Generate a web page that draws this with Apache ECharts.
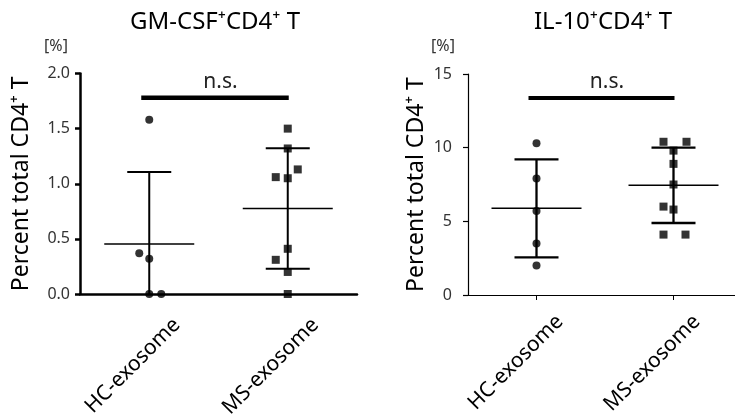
<!DOCTYPE html>
<html lang="en">
<head>
    <meta charset="UTF-8">
    <title>GM-CSF / IL-10 CD4 T</title>
    <script src="https://cdn.jsdelivr.net/npm/echarts@6/dist/echarts.min.js"></script>
    <style>
        html, body { margin: 0; padding: 0; background: #fff; }
    </style>
</head>
<body>
<div id="main" style="width: 735px;height: 417px"></div>
<script type="text/javascript">
    // categories and values
    var categories = ['HC-exosome', 'MS-exosome'];
    var gmHc = [1.58, 0.37, 0.32, 0, 0];
    var gmMs = [1.50, 1.32, 1.13, 1.06, 1.05, 0.41, 0.31, 0.20, 0];
    var ilHc = [10.3, 7.9, 5.7, 3.5, 2.0];
    var ilMs = [10.4, 10.4, 9.8, 8.9, 7.5, 6.0, 5.8, 4.1, 4.1];
    var gmTicks = [0, 0.5, 1.0, 1.5, 2.0];
    var ilTicks = [0, 5, 10, 15];
    var gmSig = 1.78, ilSig = 13.37, sigText = 'n.s.';

    // horizontal pixel shift of points that sit side by side
    var gmHcShift = [0, -10, 0, 0, 12];
    var gmMsShift = [0, 0, 10, -12, 0, 0, -12, 0, 0];
    var ilHcShift = [0, 0, 0, 0, 0];
    var ilMsShift = [-10, 13, 0, 0, 0, -10, 0, -10, 12];

    var FONT = 'Noto Sans';

    function mean(a) {
        var s = 0;
        for (var i = 0; i < a.length; i++) s += a[i];
        return s / a.length;
    }
    function sd(a) {
        var m = mean(a), s = 0;
        for (var i = 0; i < a.length; i++) s += (a[i] - m) * (a[i] - m);
        return Math.sqrt(s / (a.length - 1));
    }
    function points(vals, shift, idx) {
        return vals.map(function (v, i) {
            return {value: [idx, v], symbolOffset: [shift[i], 0]};
        });
    }

    // mean line + SD whiskers
    function sdBar(axisMin, lw) {
        return function (params, api) {
            var i = api.value(0), m = api.value(1), s = api.value(2);
            var pm = api.coord([i, m]);
            var pu = api.coord([i, m + s]);
            var low = m - s;
            var pl = api.coord([i, Math.max(low, axisMin)]);
            var st = {stroke: '#000', lineWidth: lw};
            var kids = [
                {type: 'line', shape: {x1: pm[0] - 45, y1: pm[1], x2: pm[0] + 45, y2: pm[1]}, style: {stroke: '#000', lineWidth: 1.5}},
                {type: 'line', shape: {x1: pu[0], y1: pu[1], x2: pl[0], y2: pl[1]}, style: st},
                {type: 'line', shape: {x1: pu[0] - 22, y1: pu[1], x2: pu[0] + 22, y2: pu[1]}, style: st}
            ];
            if (low >= axisMin) {
                kids.push({type: 'line', shape: {x1: pl[0] - 22, y1: pl[1], x2: pl[0] + 22, y2: pl[1]}, style: st});
            }
            return {type: 'group', children: kids};
        };
    }

    // significance bar with text
    function sigBar(lw) {
        return function (params, api) {
            var a = api.coord([api.value(0), api.value(2)]);
            var b = api.coord([api.value(1), api.value(2)]);
            return {
                type: 'group', children: [
                    {type: 'line', shape: {x1: a[0] - 8, y1: a[1], x2: b[0] + 1, y2: b[1]}, style: {stroke: '#000', lineWidth: lw}},
                    {type: 'text', x: (a[0] + b[0]) / 2 + 2, y: a[1] - 5,
                        style: {text: sigText, fill: '#222', font: '21px "' + FONT + '"', align: 'center', verticalAlign: 'bottom'}}
                ]
            };
        };
    }

    function xAxis(grid, lw, showTick, pad) {
        return {
            type: 'category', gridIndex: grid, data: categories,
            axisLine: {lineStyle: {color: '#000', width: lw}},
            axisTick: {show: showTick, alignWithLabel: true, length: 5, lineStyle: {color: '#000', width: 1}},
            axisLabel: {
                rotate: 45, margin: 0, verticalAlign: 'top', padding: [pad, 0, 0, 0], lineHeight: 26,
                color: '#000', fontFamily: FONT, fontSize: 21, interval: 0
            }
        };
    }
    function yAxis(grid, ticks, lw, gap, margin, digits) {
        return {
            type: 'value', gridIndex: grid,
            min: ticks[0], max: ticks[ticks.length - 1], interval: ticks[1] - ticks[0],
            name: 'Percent total CD4⁺ T', nameLocation: 'middle', nameGap: gap,
            nameTextStyle: {color: '#000', fontFamily: FONT, fontSize: 23},
            splitLine: {show: false},
            axisLine: {show: true, lineStyle: {color: '#000', width: lw}},
            axisTick: {show: true, length: 5, lineStyle: {color: '#000', width: lw}},
            axisLabel: {
                margin: margin, color: '#333', fontFamily: FONT, fontSize: 16,
                formatter: function (v) { return v.toFixed(digits); }
            }
        };
    }

    var myChart = echarts.init(document.getElementById('main'));
    myChart.setOption({
        animation: false,
        textStyle: {fontFamily: FONT},
        title: [
            {text: 'GM-CSF⁺CD4⁺ T', left: 210, top: 5, textAlign: 'center',
                textStyle: {fontFamily: FONT, fontSize: 24, fontWeight: 'normal', color: '#000'}},
            {text: 'IL-10⁺CD4⁺ T', left: 598, top: 5, textAlign: 'center',
                textStyle: {fontFamily: FONT, fontSize: 24, fontWeight: 'normal', color: '#000'}},
            {text: '[%]', left: 51, top: 33, textAlign: 'center',
                textStyle: {fontFamily: FONT, fontSize: 16, fontWeight: 'normal', color: '#333'}},
            {text: '[%]', left: 438, top: 33, textAlign: 'center',
                textStyle: {fontFamily: FONT, fontSize: 16, fontWeight: 'normal', color: '#333'}}
        ],
        grid: [
            {left: 80, right: 378, top: 73.5, bottom: 123, outerBoundsMode: 'none'},
            {left: 468, right: -7, top: 74, bottom: 122, outerBoundsMode: 'none'}
        ],
        xAxis: [xAxis(0, 2.5, false, 26), xAxis(1, 1.2, true, 20)],
        yAxis: [yAxis(0, gmTicks, 2.5, 47, 10, 1), yAxis(1, ilTicks, 1.2, 40, 16, 0)],
        series: [
            {type: 'custom', xAxisIndex: 0, yAxisIndex: 0, renderItem: sdBar(0, 2), z: 2,
                data: [[0, mean(gmHc), sd(gmHc)], [1, mean(gmMs), sd(gmMs)]]},
            {type: 'custom', xAxisIndex: 1, yAxisIndex: 1, renderItem: sdBar(0, 2.3), z: 2,
                data: [[0, mean(ilHc), sd(ilHc)], [1, mean(ilMs), sd(ilMs)]]},
            {type: 'custom', xAxisIndex: 0, yAxisIndex: 0, renderItem: sigBar(4.5), data: [[0, 1, gmSig]]},
            {type: 'custom', xAxisIndex: 1, yAxisIndex: 1, renderItem: sigBar(4), data: [[0, 1, ilSig]]},
            {type: 'scatter', xAxisIndex: 0, yAxisIndex: 0, symbol: 'circle', symbolSize: 8, clip: false, z: 5,
                itemStyle: {color: '#000'}, data: points(gmHc, gmHcShift, 0)},
            {type: 'scatter', xAxisIndex: 0, yAxisIndex: 0, symbol: 'rect', symbolSize: 8, clip: false, z: 5,
                itemStyle: {color: '#000'}, data: points(gmMs, gmMsShift, 1)},
            {type: 'scatter', xAxisIndex: 1, yAxisIndex: 1, symbol: 'circle', symbolSize: 8, clip: false, z: 5,
                itemStyle: {color: '#000'}, data: points(ilHc, ilHcShift, 0)},
            {type: 'scatter', xAxisIndex: 1, yAxisIndex: 1, symbol: 'rect', symbolSize: 8, clip: false, z: 5,
                itemStyle: {color: '#000'}, data: points(ilMs, ilMsShift, 1)}
        ]
    });
</script>
</body>
</html>
